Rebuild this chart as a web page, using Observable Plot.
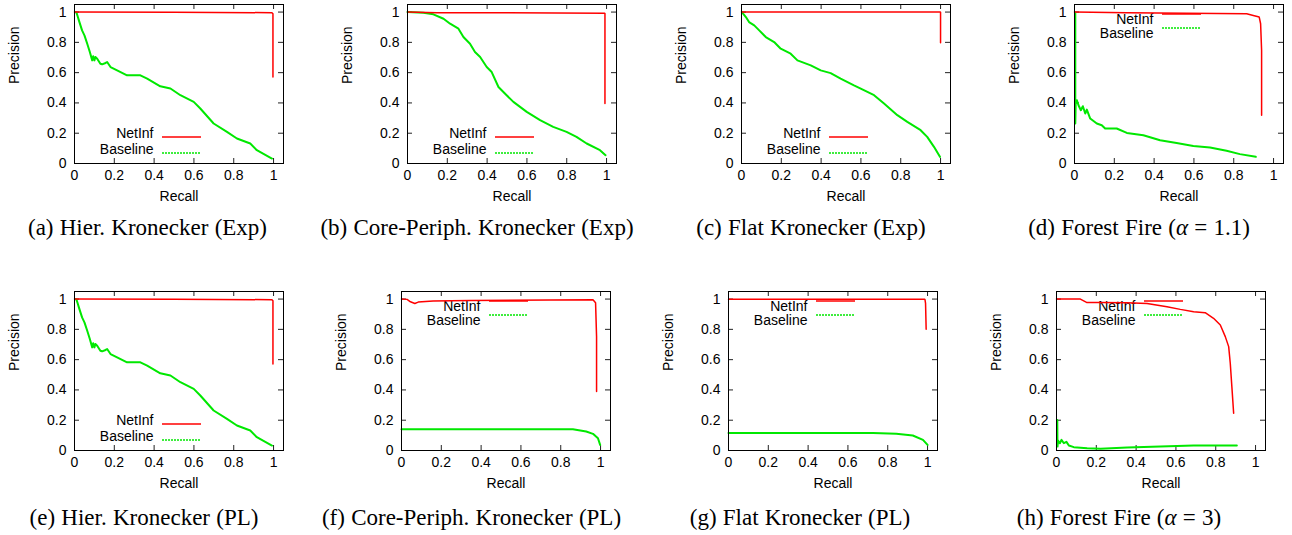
<!DOCTYPE html>
<html><head><meta charset="utf-8">
<script src="https://cdn.jsdelivr.net/npm/d3@7"></script>
<script src="https://cdn.jsdelivr.net/npm/@observablehq/plot@0.6"></script>
<style>
html,body{margin:0;padding:0;background:#fff}
body{width:1292px;height:535px;overflow:hidden;position:relative}
.panel{position:absolute;width:330px;height:215px}
.panel svg{overflow:visible;max-width:none !important;width:330px;height:215px}
#captions{position:absolute;left:0;top:0}
</style></head><body>
<script>
// ---- tick values ----
const xTicks = [0, 0.2, 0.4, 0.6, 0.8, 1];
const yTicks = [0, 0.2, 0.4, 0.6, 0.8, 1];
const legendLabels = ["NetInf", "Baseline"];

// ---- series: [recall, precision] ----
const hierNetInf = [[0,1.0],[0.5,0.998],[0.992,0.996],[0.997,0.989],[0.997,0.571]];
const hierBaseline = [[0.004,1.0],[0.01,0.996],[0.017,0.967],[0.022,0.945],[0.03,0.912],[0.038,0.879],[0.05,0.846],[0.064,0.791],[0.077,0.736],[0.089,0.681],[0.094,0.708],[0.1,0.681],[0.105,0.703],[0.114,0.692],[0.13,0.659],[0.139,0.655],[0.156,0.664],[0.164,0.67],[0.181,0.637],[0.214,0.615],[0.264,0.582],[0.331,0.582],[0.365,0.56],[0.431,0.51],[0.482,0.495],[0.532,0.451],[0.599,0.407],[0.632,0.363],[0.699,0.264],[0.766,0.209],[0.816,0.165],[0.883,0.132],[0.916,0.088],[0.992,0.033]];

const corePExpNetInf = [[0,1.0],[0.147,0.996],[0.992,0.993],[0.992,0.396]];
const corePExpBaseline = [[0,1.0],[0.08,0.996],[0.13,0.985],[0.181,0.956],[0.214,0.923],[0.256,0.89],[0.281,0.835],[0.314,0.791],[0.339,0.736],[0.365,0.703],[0.398,0.637],[0.423,0.604],[0.457,0.505],[0.498,0.451],[0.532,0.407],[0.599,0.341],[0.666,0.286],[0.732,0.242],[0.799,0.209],[0.849,0.176],[0.9,0.132],[0.967,0.088],[0.995,0.055]];

const flatExpNetInf = [[0,1.0],[1.0,1.0],[1.0,0.798]];
const flatExpBaseline = [[0.003,1.0],[0.008,0.99],[0.022,0.967],[0.038,0.934],[0.064,0.912],[0.089,0.879],[0.122,0.835],[0.164,0.802],[0.197,0.758],[0.247,0.725],[0.281,0.681],[0.348,0.648],[0.398,0.615],[0.448,0.597],[0.498,0.56],[0.565,0.516],[0.599,0.495],[0.666,0.451],[0.716,0.396],[0.783,0.319],[0.833,0.275],[0.9,0.22],[0.933,0.176],[0.967,0.11],[0.997,0.044]];

const ff11NetInf = [[0,1.0],[0.263,0.996],[0.865,0.989],[0.898,0.978],[0.928,0.967],[0.935,0.923],[0.94,0.747],[0.94,0.319]];
const ff11Baseline = [[0.004,0.996],[0.004,0.264],[0.006,0.396],[0.012,0.418],[0.02,0.385],[0.032,0.352],[0.042,0.378],[0.054,0.33],[0.062,0.356],[0.079,0.297],[0.112,0.264],[0.137,0.253],[0.154,0.231],[0.212,0.231],[0.263,0.202],[0.346,0.187],[0.43,0.154],[0.513,0.136],[0.597,0.116],[0.681,0.105],[0.764,0.084],[0.831,0.062],[0.911,0.044]];

const corePPLNetInf = [[0,1.0],[0.028,0.998],[0.045,0.982],[0.067,0.971],[0.084,0.98],[0.159,0.987],[0.343,0.991],[0.962,0.996],[0.975,0.976],[0.98,0.752],[0.98,0.389]];
const corePPLBaseline = [[0,0.141],[0.861,0.141],[0.928,0.125],[0.962,0.11],[0.987,0.081],[0.998,0.037]];

const flatPLNetInf = [[0,0.998],[0.987,0.998],[0.99,0.971],[0.993,0.8]];
const flatPLBaseline = [[0,0.116],[0.726,0.116],[0.843,0.11],[0.926,0.099],[0.977,0.07],[1.0,0.037]];

const ff3NetInf = [[0,1.0],[0.12,1.0],[0.151,0.978],[0.221,0.978],[0.355,0.976],[0.455,0.971],[0.555,0.949],[0.622,0.932],[0.689,0.916],[0.747,0.91],[0.789,0.873],[0.823,0.829],[0.848,0.752],[0.865,0.686],[0.873,0.576],[0.881,0.422],[0.89,0.246]];
const ff3Baseline = [[0.004,0.202],[0.005,0.026],[0.008,0.066],[0.017,0.048],[0.025,0.07],[0.037,0.048],[0.05,0.057],[0.062,0.033],[0.087,0.022],[0.154,0.015],[0.221,0.011],[0.355,0.02],[0.522,0.026],[0.689,0.033],[0.906,0.033]];

// ---- captions (segments: [text, italic]) ----
const captions = [
  [["(a) Hier. Kronecker (Exp)", false]],
  [["(b) Core-Periph. Kronecker (Exp)", false]],
  [["(c) Flat Kronecker (Exp)", false]],
  [["(d) Forest Fire (", false], ["α", true], [" = 1.1)", false]],
  [["(e) Hier. Kronecker (PL)", false]],
  [["(f) Core-Periph. Kronecker (PL)", false]],
  [["(g) Flat Kronecker (PL)", false]],
  [["(h) Forest Fire (", false], ["α", true], [" = 3)", false]]
];

// ---- layout ----
const FW = 209, FH = 159, ML = 80, MR = 41, MT = 6, MB = 50;
const W = ML + FW + MR, H = MT + FH + MB;
const layout = [
  {net: hierNetInf, base: hierBaseline, legend: "bottom", L: 74, T: 4, cx: 147.5, cy: 234.5},
  {net: corePExpNetInf, base: corePExpBaseline, legend: "bottom", L: 407, T: 4, cx: 477, cy: 234.5},
  {net: flatExpNetInf, base: flatExpBaseline, legend: "bottom", L: 741, T: 4, cx: 811, cy: 234.5},
  {net: ff11NetInf, base: ff11Baseline, legend: "top", L: 1074, T: 4, cx: 1139, cy: 234.5},
  {net: hierNetInf, base: hierBaseline, legend: "bottom", L: 74, T: 291, cx: 144, cy: 525},
  {net: corePPLNetInf, base: corePPLBaseline, legend: "top", L: 401, T: 291, cx: 471.5, cy: 525},
  {net: flatPLNetInf, base: flatPLBaseline, legend: "top", L: 728, T: 291, cx: 800, cy: 525},
  {net: ff3NetInf, base: ff3Baseline, legend: "top", L: 1056, T: 291, cx: 1119, cy: 525}
];

const RED = "#ff0000", GREEN = "#00e800";
const fmt = d => String(d);
const sans = "'Liberation Sans', Arial, Helvetica, sans-serif";

layout.forEach((p, i) => {
  const rows = p.legend === "bottom" ? [-26, -10] : [10, 24];
  const anchor = p.legend === "bottom" ? "bottom-left" : "top-left";
  const svg = Plot.plot({
    width: W, height: H,
    marginLeft: ML, marginRight: MR, marginTop: MT, marginBottom: MB,
    x: {domain: [0, 1.05], axis: null},
    y: {domain: [0, 1.05], axis: null},
    style: {fontFamily: sans, fontSize: "14px", background: "transparent", color: "#000"},
    marks: [
      Plot.tickX(xTicks, {x: d => d, insetTop: FH - 5, stroke: "#222"}),
      Plot.tickX(xTicks, {x: d => d, insetBottom: FH - 5, stroke: "#222"}),
      Plot.tickY(yTicks, {y: d => d, insetRight: FW - 5, stroke: "#222"}),
      Plot.tickY(yTicks, {y: d => d, insetLeft: FW - 5, stroke: "#222"}),
      Plot.text(xTicks, {x: d => d, frameAnchor: "bottom", dy: 16, text: fmt, fill: "#000"}),
      Plot.text(yTicks, {y: d => d, frameAnchor: "left", dx: -8, textAnchor: "end", text: fmt, fill: "#000"}),
      Plot.text(["Recall"], {frameAnchor: "bottom", dy: 37, text: d => d, fill: "#000"}),
      Plot.text(["Precision"], {frameAnchor: "left", dx: -60, rotate: -90, text: d => d, fill: "#000"}),
      Plot.text([legendLabels[0]], {frameAnchor: anchor, dx: 79, dy: rows[0], textAnchor: "end", text: d => d, fill: "#000"}),
      Plot.text([legendLabels[1]], {frameAnchor: anchor, dx: 79, dy: rows[1], textAnchor: "end", text: d => d, fill: "#000"}),
      Plot.line(p.base, {x: d => d[0], y: d => d[1], stroke: GREEN, strokeWidth: 2, strokeLinejoin: "round"}),
      Plot.line(p.net, {x: d => d[0], y: d => d[1], stroke: RED, strokeWidth: 1.5, strokeLinejoin: "miter"}),
      Plot.frame({stroke: "#000", strokeWidth: 1})
    ]
  });
  // legend sample lines
  const baseY = p.legend === "bottom" ? MT + FH : MT;
  const g = d3.select(svg).append("g");
  g.append("line").attr("x1", ML + 88).attr("x2", ML + 127)
    .attr("y1", baseY + rows[0]).attr("y2", baseY + rows[0])
    .attr("stroke", RED).attr("stroke-width", 1.5);
  g.append("line").attr("x1", ML + 88).attr("x2", ML + 127)
    .attr("y1", baseY + rows[1]).attr("y2", baseY + rows[1])
    .attr("stroke", GREEN).attr("stroke-width", 1.3).attr("stroke-dasharray", "2,1");
  const div = document.createElement("div");
  div.className = "panel";
  div.style.left = (p.L - ML) + "px";
  div.style.top = (p.T - MT) + "px";
  div.appendChild(svg);
  document.body.appendChild(div);
});

// captions
const cap = d3.select(document.body).append("svg").attr("id", "captions")
  .attr("width", 1292).attr("height", 535)
  .style("pointer-events", "none");
layout.forEach((p, i) => {
  const t = cap.append("text")
    .attr("x", p.cx).attr("y", p.cy)
    .attr("text-anchor", "middle")
    .attr("font-family", "'Liberation Serif', 'Times New Roman', serif")
    .attr("font-size", 23)
    .attr("word-spacing", 0.5)
    .attr("fill", "#000");
  captions[i].forEach(([s, it]) => {
    t.append("tspan").text(s).attr("font-style", it ? "italic" : null);
  });
});
</script>
</body></html>
